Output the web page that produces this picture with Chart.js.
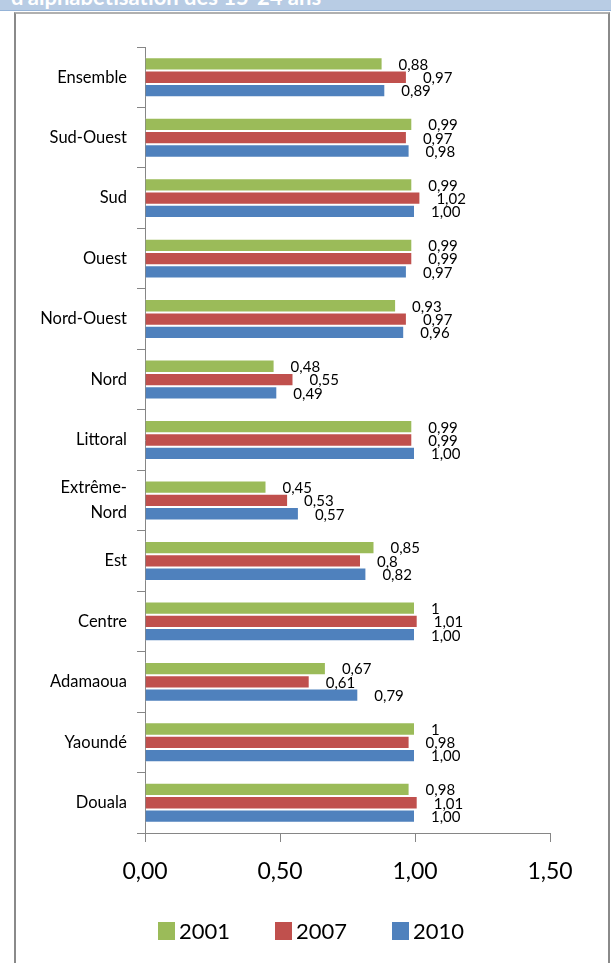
<!DOCTYPE html>
<html>
<head>
<meta charset="utf-8">
<script src="https://cdn.jsdelivr.net/npm/chart.js@4"></script>
<style>
  html, body { margin: 0; padding: 0; background: #fff; }
  body { width: 611px; height: 963px; position: relative; overflow: hidden; }
  #hdr { position: absolute; left: 0; top: 0; width: 611px; height: 10px; background: #B8CCE4; border-bottom: 1px solid #95B3D7; overflow: hidden; }
  #hdr span { position: absolute; left: 11px; top: -14px; font: bold 22px Lato, "Open Sans", sans-serif; line-height: 22px; color: #fff; white-space: nowrap; }
  #frame { position: absolute; left: 14px; top: 12px; width: 596px; height: 1000px; border: 2px solid #8a8a8a; border-top-color: #b0b0b0; box-sizing: border-box; }
  #wrap { position: absolute; left: 0; top: 0; width: 611px; height: 963px; }
</style>
</head>
<body>
<div id="hdr"><span>d'alphabétisation des 15-24 ans</span></div>
<div id="frame"></div>
<div id="wrap"><canvas id="c" width="611" height="963"></canvas></div>
<script>
const categories = ["Ensemble", "Sud-Ouest", "Sud", "Ouest", "Nord-Ouest", "Nord", "Littoral", ["Extrême-", "Nord"], "Est", "Centre", "Adamaoua", "Yaoundé", "Douala"];
const seriesNames = ["2001", "2007", "2010"];
const values2001 = [0.88, 0.99, 0.99, 0.99, 0.93, 0.48, 0.99, 0.45, 0.85, 1, 0.67, 1, 0.98];
const values2007 = [0.97, 0.97, 1.02, 0.99, 0.97, 0.55, 0.99, 0.53, 0.8, 1.01, 0.61, 0.98, 1.01];
const values2010 = [0.89, 0.98, 1.00, 0.97, 0.96, 0.49, 1.00, 0.57, 0.82, 1.00, 0.79, 1.00, 1.00];
const xTicks = [0, 0.5, 1, 1.5];

const colors = ["#9BBB59", "#C0504D", "#4F81BD"];
const FONT = "Lato, 'Open Sans', sans-serif";

const fmtGeneral = v => String(v).replace('.', ',');
const fmtFixed2 = v => v.toFixed(2).replace('.', ',');
const labelFormats = [fmtGeneral, fmtGeneral, fmtFixed2];

const dataLabelPlugin = {
  id: 'dataLabels',
  afterDatasetsDraw(chart) {
    const ctx = chart.ctx;
    ctx.save();
    ctx.font = "15px " + FONT;
    ctx.fillStyle = "#000";
    ctx.textAlign = "left";
    ctx.textBaseline = "middle";
    chart.data.datasets.forEach((ds, i) => {
      const meta = chart.getDatasetMeta(i);
      meta.data.forEach((bar, j) => {
        ctx.fillText(labelFormats[i](ds.data[j]), bar.x + 16, bar.y + 1);
      });
    });
    ctx.restore();
  }
};

const legendPlugin = {
  id: 'customLegend',
  afterDraw(chart) {
    const ctx = chart.ctx;
    ctx.save();
    ctx.font = "22px " + FONT;
    ctx.textBaseline = "middle";
    ctx.textAlign = "left";
    const cy = 931;
    chart.data.datasets.forEach((ds, i) => {
      const x = 158 + i * 117;
      ctx.fillStyle = ds.backgroundColor;
      ctx.fillRect(x, cy - 9, 17, 18);
      ctx.fillStyle = "#000";
      ctx.fillText(ds.label, x + 21, cy + 1);
    });
    ctx.restore();
  }
};

const datasets = [values2001, values2007, values2010].map((arr, i) => ({
  label: seriesNames[i],
  data: arr,
  backgroundColor: colors[i],
  borderColor: "rgba(255,255,255,0.55)",
  borderWidth: 1,
  categoryPercentage: 0.66,
  barPercentage: 1.0
}));

new Chart(document.getElementById('c'), {
  type: 'bar',
  data: { labels: categories, datasets },
  options: {
    indexAxis: 'y',
    responsive: false,
    animation: false,
    devicePixelRatio: 1,
    layout: { padding: { left: 0, right: 61, top: 47, bottom: 70 } },
    plugins: { legend: { display: false }, tooltip: { enabled: false } },
    scales: {
      x: {
        min: 0, max: 1.5,
        afterBuildTicks(scale) { scale.ticks = xTicks.map(v => ({ value: v })); },
        afterFit(scale) { scale.height = 963 - 70 - 833; },
        ticks: {
          color: "#000",
          font: { family: FONT, size: 23 },
          padding: 16,
          maxRotation: 0,
          callback: v => v.toFixed(2).replace('.', ',')
        },
        grid: { drawOnChartArea: false, tickLength: 9, color: "#868686", tickColor: "#868686" },
        border: { color: "#868686", width: 1 }
      },
      y: {
        afterFit(scale) { scale.width = 145; },
        ticks: {
          color: "#000",
          font: { family: FONT, size: 16.5, lineHeight: 1.5 },
          padding: 10
        },
        grid: { drawOnChartArea: false, tickLength: 8, color: "#868686", tickColor: "#868686", offset: true },
        border: { color: "#868686", width: 1 }
      }
    }
  },
  plugins: [dataLabelPlugin, legendPlugin]
});
</script>
</body>
</html>
